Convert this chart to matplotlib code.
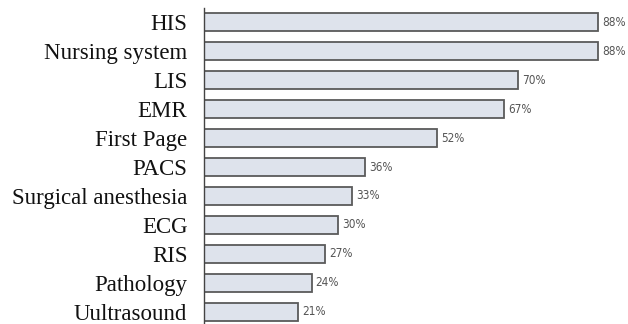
import matplotlib
matplotlib.use("Agg")
import matplotlib.pyplot as plt

categories = ["HIS", "Nursing system", "LIS", "EMR", "First Page", "PACS",
              "Surgical anesthesia", "ECG", "RIS", "Pathology", "Uultrasound"]
values = [88, 88, 70, 67, 52, 36, 33, 30, 27, 24, 21]
value_labels = ["88%", "88%", "70%", "67%", "52%", "36%", "33%", "30%", "27%", "24%", "21%"]

W, H = 628, 324
fig = plt.figure(figsize=(W / 100, H / 100), dpi=100)
left, right, top, bottom = 204, 628, 8, 324
ax = fig.add_axes([left / W, 1 - bottom / H, (right - left) / W, (bottom - top) / H])

y = list(range(len(categories)))
ax.barh(y, values, height=0.59, color="#dee3ec", edgecolor="#5a5a5a", linewidth=1.3)
for yi, v, lab in zip(y, values, value_labels):
    ax.annotate(lab, (v, yi), xytext=(3, 0), textcoords="offset points",
                va="center", ha="left", fontsize=8.5, color="#555555",
                family="DejaVu Sans", fontstretch="condensed")

ax.set_xlim(0, (right - left) / 4.48)
ax.set_ylim(10.414, -0.483)
ax.set_yticks(y)
ax.set_yticklabels(categories, family="Liberation Serif", fontsize=16.5, color="#111111")
ax.tick_params(axis="y", length=0, pad=12)
ax.set_xticks([])
for s in ["top", "right", "bottom"]:
    ax.spines[s].set_visible(False)
ax.spines["left"].set_color("#444444")
ax.spines["left"].set_linewidth(1.0)

fig.savefig("out.png", dpi=100)
